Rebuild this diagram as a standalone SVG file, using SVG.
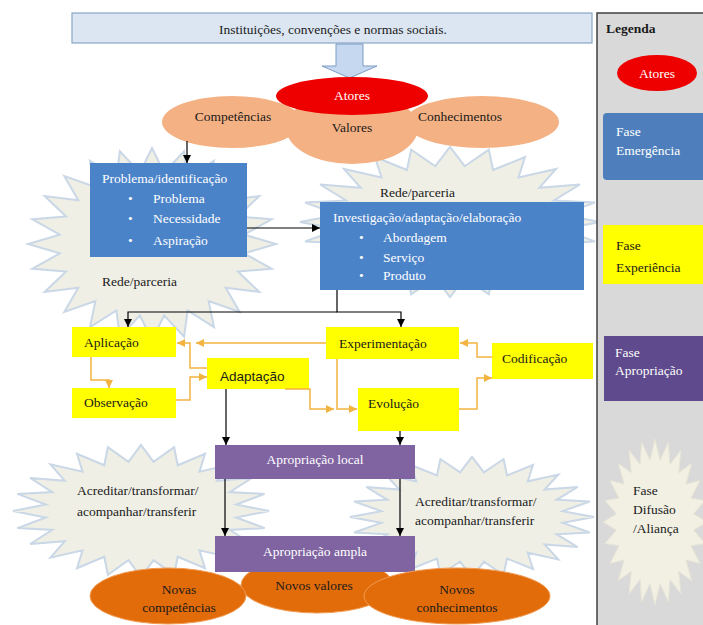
<svg xmlns="http://www.w3.org/2000/svg" xmlns:xlink="http://www.w3.org/1999/xlink" width="703" height="625" viewBox="0 0 703 625">
<style>
.t{font-family:"Liberation Serif","Times New Roman",serif;font-size:13.5px;fill:#1a1a1a}
.w{fill:#ffffff}
.c{text-anchor:middle}
.s{font-family:"Liberation Sans",Arial,sans-serif;font-size:13.5px}
.b{font-weight:bold}
.burst{fill:#efefe6;stroke:#c9d7e6;stroke-width:2}
.blk{stroke:#000;stroke-width:1.2;fill:none;marker-end:url(#ab)}
.org{stroke:#f2b340;stroke-width:1.5;fill:none;marker-end:url(#ao)}
.yel{fill:#ffff00}
.blue{fill:#4b83c9}
.pur{fill:#8064a2}
.peach{fill:#f4b183}
.dor{fill:#e36c0a;stroke:#f19a50;stroke-width:1}
</style>
<defs>
<polygon id="star24" vector-effect="non-scaling-stroke" points="100,0 74.36,9.79 96.59,25.88 69.29,28.7 86.6,50 59.5,45.66 70.71,70.71 45.66,59.5 50,86.6 28.7,69.29 25.88,96.59 9.79,74.36 0,100 -9.79,74.36 -25.88,96.59 -28.7,69.29 -50,86.6 -45.66,59.5 -70.71,70.71 -59.5,45.66 -86.6,50 -69.29,28.7 -96.59,25.88 -74.36,9.79 -100,0 -74.36,-9.79 -96.59,-25.88 -69.29,-28.7 -86.6,-50 -59.5,-45.66 -70.71,-70.71 -45.66,-59.5 -50,-86.6 -28.7,-69.29 -25.88,-96.59 -9.79,-74.36 0,-100 9.79,-74.36 25.88,-96.59 28.7,-69.29 50,-86.6 45.66,-59.5 70.71,-70.71 59.5,-45.66 86.6,-50 69.29,-28.7 96.59,-25.88 74.36,-9.79"/>
<marker id="ab" viewBox="0 0 10 10" refX="10" refY="5" markerWidth="8" markerHeight="8" markerUnits="userSpaceOnUse" orient="auto"><path d="M0,0 L10,5 L0,10 z" fill="#000"/></marker>
<marker id="ao" viewBox="0 0 10 10" refX="10" refY="5" markerWidth="8" markerHeight="8" markerUnits="userSpaceOnUse" orient="auto"><path d="M0,0 L10,5 L0,10 z" fill="#f2b340"/></marker>
</defs>
<rect width="703" height="625" fill="#ffffff"/>

<g id="bursts">
<use xlink:href="#star24" class="burst" transform="translate(152 244) scale(1.24 0.96)"/>
<use xlink:href="#star24" class="burst" transform="translate(450 222) scale(1.5 0.75)"/>
<use xlink:href="#star24" class="burst" transform="translate(141 511) scale(1.28 0.66)"/>
<use xlink:href="#star24" class="burst" transform="translate(472 517) scale(1.22 0.6)"/>
</g>

<g id="instituicoes">
<rect x="72" y="13" width="520" height="30" fill="#dce6f2" stroke="#8aa5c8" stroke-width="1.2"/>
<text class="t c" x="333" y="33.5">Instituições, convenções e normas sociais.</text>
</g>

<g id="seta-bloco">
<path d="M336,44 H363 V66 H377 L349.5,78 L322,66 H336 Z" fill="#c5d8ef" stroke="#7d9cc4" stroke-width="1"/>
</g>

<g id="atores-nuvem">
<ellipse class="peach" cx="352" cy="128" rx="66" ry="36"/>
<ellipse class="peach" cx="232" cy="122" rx="70" ry="26"/>
<ellipse class="peach" cx="482" cy="122" rx="77" ry="26"/>
<ellipse cx="352" cy="96" rx="76" ry="19" fill="#ee0000"/>
<text class="t c w" x="352" y="99.5">Atores</text>
<text class="t c" x="233" y="120.5">Competências</text>
<text class="t c" x="352" y="131.5">Valores</text>
<text class="t c" x="460" y="120.5">Conhecimentos</text>
</g>

<g id="problema">
<rect class="blue" x="90" y="163" width="157" height="94"/>
<text class="t w" x="102" y="182.5">Problema/identificação</text>
<text class="t w" x="128" y="202.5">•</text><text class="t w" x="153" y="202.5">Problema</text>
<text class="t w" x="128" y="223">•</text><text class="t w" x="153" y="223">Necessidade</text>
<text class="t w" x="128" y="244.5">•</text><text class="t w" x="153" y="244.5">Aspiração</text>
</g>
<g id="rede-esq"><text class="t" x="102" y="285.5">Rede/parceria</text></g>
<g id="rede-dir"><text class="t" x="380" y="196.5">Rede/parceria</text></g>

<g id="investigacao">
<rect class="blue" x="320" y="202" width="264" height="88"/>
<text class="t w" x="333" y="221.5">Investigação/adaptação/elaboração</text>
<text class="t w" x="359" y="241.5">•</text><text class="t w" x="383" y="241.5">Abordagem</text>
<text class="t w" x="359" y="261.5">•</text><text class="t w" x="383" y="261.5">Serviço</text>
<text class="t w" x="359" y="279.5">•</text><text class="t w" x="383" y="279.5">Produto</text>
</g>

<g id="aplicacao"><rect class="yel" x="72" y="327" width="104" height="30"/><text class="t" x="84" y="346.5">Aplicação</text></g>
<g id="observacao"><rect class="yel" x="72" y="388" width="104" height="30"/><text class="t" x="84" y="406.5">Observação</text></g>
<g id="adaptacao"><rect class="yel" x="207" y="358" width="102" height="31"/><text class="t s" x="220" y="380.5">Adaptação</text></g>
<g id="experimentacao"><rect class="yel" x="326" y="327" width="133" height="32"/><text class="t" x="339" y="347.5">Experimentação</text></g>
<g id="evolucao"><rect class="yel" x="358" y="388" width="101" height="43"/><text class="t" x="368" y="407.5">Evolução</text></g>
<g id="codificacao"><rect class="yel" x="492" y="343" width="101" height="36"/><text class="t" x="502" y="362.5">Codificação</text></g>

<g id="apropriacao-local"><rect class="pur" x="215" y="445" width="200" height="34"/><text class="t c w" x="315" y="463.5">Apropriação local</text></g>

<g id="acreditar-esq"><text class="t" x="77" y="494.5">Acreditar/transformar/</text><text class="t" x="77" y="515.5">acompanhar/transferir</text></g>
<g id="acreditar-dir"><text class="t" x="415" y="505.5">Acreditar/transformar/</text><text class="t" x="415" y="524.5">acompanhar/transferir</text></g>

<g id="novos-valores"><ellipse class="dor" cx="317" cy="585" rx="76" ry="28"/><text class="t c" x="314" y="589.5">Novos valores</text></g>
<g id="apropriacao-ampla"><rect class="pur" x="215" y="536" width="200" height="36"/><text class="t c w" x="315" y="555.5">Apropriação ampla</text></g>
<g id="novas-competencias"><ellipse class="dor" cx="168" cy="596" rx="78" ry="28"/><text class="t c" x="179" y="593.5">Novas</text><text class="t c" x="179" y="611.5">competências</text></g>
<g id="novos-conhecimentos"><ellipse class="dor" cx="457" cy="596" rx="93" ry="28"/><text class="t c" x="457" y="593.5">Novos</text><text class="t c" x="457" y="611.5">conhecimentos</text></g>

<g id="conectores">
<path class="blk" d="M187,141 V163"/>
<path class="blk" d="M247,228 H320"/>
<path class="blk" d="M337,312 H128 V327"/>
<path class="blk" d="M337,290 V312 H401 V327"/>
<path class="blk" d="M226,389 V445"/>
<path class="blk" d="M400,431 V445"/>
<path class="blk" d="M225,479 V536"/>
<path class="blk" d="M400,479 V536"/>
<path class="org" d="M91,357 V380 H109 V388"/>
<path class="org" d="M176,400 H190 V377 H207"/>
<path class="org" d="M207,368 H190 V343 H177"/>
<path class="org" d="M326,343 H196"/>
<path class="org" d="M285,389 H310 V409 H334"/>
<path class="org" d="M337,359 V409 H357"/>
<path class="org" d="M459,409 H477 V378 H492"/>
<path class="org" d="M492,357 H477 V343 H460"/>
</g>

<g id="legenda">
<rect x="597" y="13" width="110" height="615" fill="#d9d9d9" stroke="#404040" stroke-width="1.5"/>
<text class="t b" x="606" y="33">Legenda</text>
<g id="leg-atores"><ellipse cx="657" cy="73" rx="40" ry="18" fill="#ee0000"/><text class="t c w" x="657" y="77.5">Atores</text></g>
<g id="leg-emergencia"><rect x="603" y="113" width="104" height="67" rx="4" fill="#4e7fbc"/><text class="t w" x="616" y="135.5">Fase</text><text class="t w" x="616" y="154.5">Emergência</text></g>
<g id="leg-experiencia"><rect x="603" y="225" width="104" height="59" fill="#ffff00"/><text class="t" x="616" y="249.5">Fase</text><text class="t" x="616" y="271.5">Experiência</text></g>
<g id="leg-apropriacao"><rect x="604" y="336" width="103" height="65" fill="#5e4a8c"/><text class="t w" x="615" y="356.5">Fase</text><text class="t w" x="615" y="374.5">Apropriação</text></g>
<g id="leg-difusao"><use xlink:href="#star24" transform="translate(655 522) scale(0.52 0.83)" fill="#f1f0e3" stroke="#e6e4d6" stroke-width="1"/><text class="t" x="633" y="494.5">Fase</text><text class="t" x="633" y="513.5">Difusão</text><text class="t" x="633" y="532.5">/Aliança</text></g>
</g>
</svg>
